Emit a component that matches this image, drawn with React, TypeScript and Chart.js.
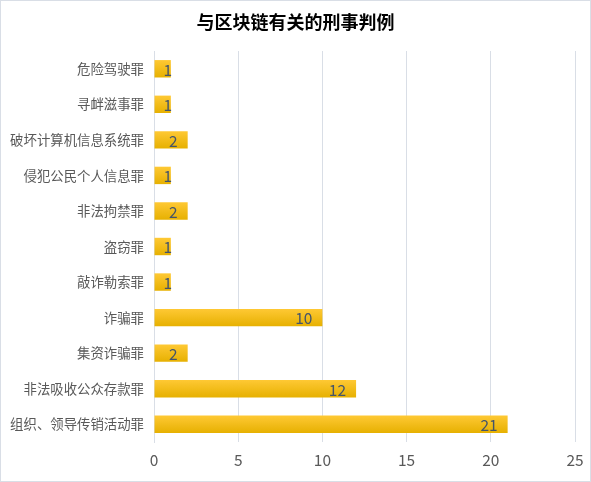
import React, { useEffect, useRef } from "react";
import { Chart, registerables, ChartConfiguration, Plugin } from "chart.js";

Chart.register(...registerables);

const TITLE = "与区块链有关的刑事判例";

const categories = [
  "危险驾驶罪",
  "寻衅滋事罪",
  "破坏计算机信息系统罪",
  "侵犯公民个人信息罪",
  "非法拘禁罪",
  "盗窃罪",
  "敲诈勒索罪",
  "诈骗罪",
  "集资诈骗罪",
  "非法吸收公众存款罪",
  "组织、领导传销活动罪",
];

const caseCounts = [1, 1, 2, 1, 2, 1, 1, 10, 2, 12, 21];

const xTicks = [0, 5, 10, 15, 20, 25];

const FONT = "'Noto Sans CJK SC', 'Microsoft YaHei', sans-serif";

// title drawn on the canvas, centred above the plot
const titlePlugin: Plugin<"bar"> = {
  id: "titleText",
  afterDraw(chart) {
    const ctx = chart.ctx;
    ctx.save();
    ctx.font = `bold 18px ${FONT}`;
    ctx.fillStyle = "#000000";
    ctx.textAlign = "center";
    ctx.textBaseline = "middle";
    ctx.fillText(TITLE, chart.width / 2, 21);
    ctx.restore();
  },
};

// value labels at the inside end of each bar
const valueLabels: Plugin<"bar"> = {
  id: "valueLabels",
  afterDatasetsDraw(chart) {
    const ctx = chart.ctx;
    const meta = chart.getDatasetMeta(0);
    ctx.save();
    ctx.font = `15.5px ${FONT}`;
    ctx.fillStyle = "#44546A";
    ctx.textAlign = "left";
    ctx.textBaseline = "middle";
    meta.data.forEach((bar: any, i) => {
      const { x, y, base } = bar.getProps(["x", "y", "base"], true);
      const text = String(caseCounts[i]);
      const w = ctx.measureText(text).width;
      const left = Math.max(x - 10 - w, base + 9);
      ctx.fillText(text, left, y + 1);
    });
    ctx.restore();
  },
};

const App: React.FC = () => {
  const chartRef = useRef<HTMLCanvasElement>(null);
  const chartInstanceRef = useRef<Chart | null>(null);

  useEffect(() => {
    document.body.style.margin = "0";
    if (!chartRef.current) return;

    const config: ChartConfiguration<"bar"> = {
      type: "bar",
      data: {
        labels: categories,
        datasets: [
          {
            data: caseCounts,
            categoryPercentage: 0.49,
            barPercentage: 1,
            borderWidth: 0,
            backgroundColor: (c: any) => {
              const chart = c.chart;
              const yScale = chart.scales?.y;
              if (!yScale || c.dataIndex === undefined) return "#F5BE14";
              const mid = yScale.getPixelForValue(c.dataIndex);
              if (!Number.isFinite(mid)) return "#F5BE14";
              const g = chart.ctx.createLinearGradient(0, mid - 9, 0, mid + 9);
              g.addColorStop(0, "#FFC935");
              g.addColorStop(1, "#E6B000");
              return g;
            },
          },
        ],
      },
      options: {
        indexAxis: "y",
        animation: false,
        responsive: true,
        maintainAspectRatio: false,
        layout: {
          padding: { top: 50, right: 15, bottom: 0, left: 0 },
        },
        plugins: {
          legend: { display: false },
          tooltip: { enabled: false },
          title: { display: false },
        },
        scales: {
          x: {
            min: 0,
            max: 25,
            afterBuildTicks: (s: any) => {
              s.ticks = xTicks.map((v) => ({ value: v }));
            },
            afterFit: (s: any) => {
              s.height = 39;
              s.paddingLeft = 0;
              s.paddingRight = 0;
            },
            ticks: {
              color: "#595959",
              font: { family: FONT, size: 15.5 },
              padding: 9,
            },
            grid: {
              color: "#D9DEE6",
              drawTicks: false,
            },
            border: { display: false },
          },
          y: {
            afterFit: (s: any) => {
              s.width = 153;
            },
            ticks: {
              color: "#595959",
              font: { family: FONT, size: 13.4 },
              padding: 10,
            },
            grid: { display: false, drawTicks: false },
            border: { display: true, color: "#D9DEE6" },
          },
        },
      },
      plugins: [titlePlugin, valueLabels],
    };

    if (chartInstanceRef.current) {
      chartInstanceRef.current.destroy();
    }
    const ctx = chartRef.current.getContext("2d");
    if (ctx) {
      chartInstanceRef.current = new Chart(ctx, config);
    }

    return () => {
      if (chartInstanceRef.current) {
        chartInstanceRef.current.destroy();
        chartInstanceRef.current = null;
      }
    };
  }, []);

  return (
    <div
      style={{
        width: 591,
        height: 482,
        boxSizing: "border-box",
        border: "1px solid #D9DEE6",
        background: "#ffffff",
      }}
    >
      <div style={{ position: "relative", width: 589, height: 480 }}>
        <canvas ref={chartRef}></canvas>
      </div>
    </div>
  );
};

export default App;
